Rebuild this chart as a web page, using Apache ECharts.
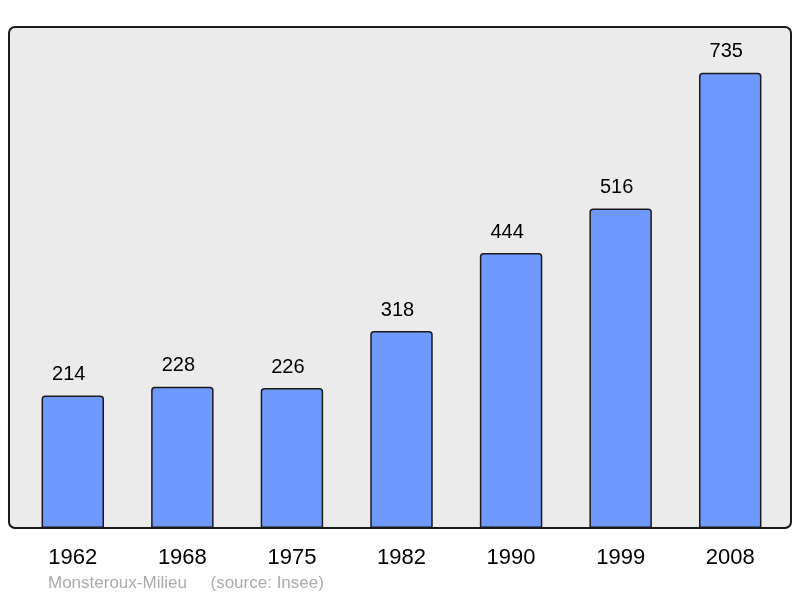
<!DOCTYPE html>
<html>
<head>
<meta charset="utf-8">
<script src="https://cdn.jsdelivr.net/npm/echarts@6/dist/echarts.min.js"></script>
<style>
  html, body { margin: 0; padding: 0; background: #fff; }
  #main { width: 800px; height: 598px; }
</style>
</head>
<body>
<div id="main"></div>
<script>
  // 人口数据
  const years = ['1962', '1968', '1975', '1982', '1990', '1999', '2008']
  const population = [214, 228, 226, 318, 444, 516, 735]
  const commune = 'Monsteroux-Milieu'
  const source = '(source: Insee)'

  let chart = echarts.init(document.getElementById('main'))

  chart.setOption({
    animation: false,
    textStyle: { fontFamily: 'Liberation Sans, Arial, sans-serif' },
    graphic: [
      {
        type: 'rect',
        z: 0,
        shape: { x: 9, y: 27, width: 782, height: 501, r: 6 },
        style: { fill: '#ebebeb', stroke: '#1a1a1a', lineWidth: 2 },
      },
      {
        type: 'text',
        z: 5,
        left: 48,
        top: 575,
        style: {
          text: commune + '     ' + source,
          fill: '#ababab',
          fontSize: 17,
          fontFamily: 'Liberation Sans, Arial, sans-serif',
        },
      },
    ],
    grid: { left: 18, right: 15, top: 27, bottom: 70 },
    xAxis: {
      type: 'category',
      data: years,
      axisLine: { show: true, lineStyle: { color: '#1a1a1a', width: 2 } },
      axisTick: { show: false },
      axisLabel: { color: '#000', fontSize: 22, margin: 19 },
    },
    yAxis: {
      type: 'value',
      min: 0,
      max: 809,
      show: false,
      splitLine: { show: false },
    },
    series: [
      {
        type: 'bar',
        data: population,
        barWidth: '57%',
        itemStyle: {
          color: '#7099ff',
          borderColor: '#1a1a1a',
          borderWidth: 1.5,
          borderRadius: [3, 3, 0, 0],
        },
        label: {
          show: true,
          position: 'top',
          distance: 11,
          offset: [-4, 0],
          color: '#000',
          fontSize: 20,
        },
      },
    ],
  })
</script>
</body>
</html>
